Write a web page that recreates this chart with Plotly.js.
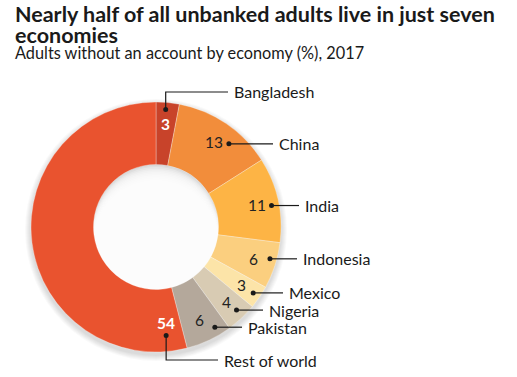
<!DOCTYPE html>
<html>
<head>
<meta charset="utf-8">
<script src="https://cdn.plot.ly/plotly-3.0.1.min.js"></script>
<style>html,body{margin:0;padding:0;background:#fff;}#chart{width:517px;height:377px;}</style>
</head>
<body>
<div id="chart"></div>
<script>
// ---- data ----
const economies = ['Bangladesh', 'China', 'India', 'Indonesia', 'Mexico', 'Nigeria', 'Pakistan', 'Rest of world'];
const shares = [3, 13, 11, 6, 3, 4, 6, 54];
const sliceColors = ['#C8432A', '#F28D3B', '#FDB445', '#FBCF7F', '#FCE4A8', '#D8CBB3', '#B4A89B', '#E9532F'];
const numberColors = ['#ffffff', '#222222', '#222222', '#222222', '#222222', '#222222', '#222222', '#ffffff'];
const titleLines = ['Nearly half of all unbanked adults live in just seven', 'economies'];
const subtitle = 'Adults without an account by economy (%), 2017';

// ---- layout constants (pixels) ----
const W = 517, H = 377;
const CX = 156, CY = 227, R = 125;
const NUM_R = 103;
const FONT = 'Lato, sans-serif';
// callout styling per slice: dot offset from number, leader end x, elbow y
const callout = [
  {ddx: 0,  ddy: -15, elbowY: 92,  endX: 228},
  {ddx: 15, ddy: 2,   endX: 273},
  {ddx: 15, ddy: 1,   endX: 299},
  {ddx: 16, ddy: 0,   endX: 297},
  {ddx: 12, ddy: 8,   endX: 283},
  {ddx: 10, ddy: 8,   endX: 263},
  {ddx: 15, ddy: 7,   endX: 242},
  {ddx: 0,  ddy: 12,  elbowY: 360, endX: 218, angle: 174, r: 97}
];

const px = x => x / W;
const py = y => 1 - y / H;

const total = shares.reduce((a, b) => a + b, 0);
let cum = 0;
const annotations = [];
const shapes = [];

// soft outer shadow (below the pie)
for (let i = 0; i < 6; i++) {
  const rr = R + 1 + i;
  shapes.push({type: 'circle', layer: 'below', xref: 'paper', yref: 'paper',
    x0: px(CX - rr), x1: px(CX + rr), y0: py(CY + 3 + rr), y1: py(CY + 3 - rr),
    fillcolor: 'rgba(0,0,0,0.022)', line: {width: 0}});
}
// inner shadow inside the hole
const HOLE = R * 0.5;
shapes.push({type: 'circle', layer: 'below', xref: 'paper', yref: 'paper',
  x0: px(CX - HOLE - 1), x1: px(CX + HOLE + 1), y0: py(CY + HOLE + 1), y1: py(CY - HOLE - 1),
  fillcolor: '#d2d2d2', line: {width: 0}});
for (let k = 1; k <= 10; k++) {
  const off = k * 1.6;
  const rr = HOLE + 0.6;
  shapes.push({type: 'circle', layer: 'below', xref: 'paper', yref: 'paper',
    x0: px(CX - rr), x1: px(CX + rr), y0: py(CY + off + rr), y1: py(CY + off - rr),
    fillcolor: 'rgba(255,255,255,0.27)', line: {width: 0}});
}

shares.forEach((v, i) => {
  const c = callout[i];
  const mid = (cum + v / 2) / total * 360;
  cum += v;
  const ang = (c.angle !== undefined ? c.angle : mid) * Math.PI / 180;
  const rr = c.r !== undefined ? c.r : NUM_R;
  const nx = CX + rr * Math.sin(ang);
  const ny = CY - rr * Math.cos(ang);
  annotations.push({xref: 'paper', yref: 'paper', x: px(nx), y: py(ny), text: String(v),
    showarrow: false, xanchor: 'center', yanchor: 'middle',
    font: {family: FONT, size: 15.5, color: numberColors[i], weight: numberColors[i] === '#ffffff' ? 'bold' : 'normal'}});
  const dx = nx + c.ddx, dy = ny + c.ddy;
  shapes.push({type: 'circle', xref: 'paper', yref: 'paper', xsizemode: 'pixel', ysizemode: 'pixel',
    xanchor: px(dx), yanchor: py(dy), x0: -2.5, x1: 2.5, y0: -2.5, y1: 2.5,
    fillcolor: '#1a1a1a', line: {width: 0}});
  let path, ly;
  if (c.elbowY !== undefined) {
    ly = c.elbowY;
    path = `M${px(dx)},${py(dy)} L${px(dx)},${py(ly)} L${px(c.endX)},${py(ly)}`;
  } else {
    ly = dy;
    path = `M${px(dx)},${py(dy)} L${px(c.endX)},${py(dy)}`;
  }
  shapes.push({type: 'path', xref: 'paper', yref: 'paper', path: path, line: {color: '#1a1a1a', width: 1.2}});
  annotations.push({xref: 'paper', yref: 'paper', x: px(c.endX + 4), y: py(ly), text: economies[i],
    showarrow: false, xanchor: 'left', yanchor: 'middle',
    font: {family: FONT, size: 16, color: '#1a1a1a'}});
});

// title lines and subtitle
annotations.push({xref: 'paper', yref: 'paper', x: px(13), y: py(13.5), xanchor: 'left', yanchor: 'middle',
  text: '<b>' + titleLines[0] + '</b>', showarrow: false, font: {family: FONT, size: 21.5, color: '#1a1a1a'}});
annotations.push({xref: 'paper', yref: 'paper', x: px(13), y: py(34.5), xanchor: 'left', yanchor: 'middle',
  text: '<b>' + titleLines[1] + '</b>', showarrow: false, font: {family: FONT, size: 21.5, color: '#1a1a1a'}});
annotations.push({xref: 'paper', yref: 'paper', x: px(13), y: py(52), xanchor: 'left', yanchor: 'middle',
  text: subtitle, showarrow: false, font: {family: FONT, size: 16.3, color: '#1a1a1a'}});

const trace = {
  type: 'pie', labels: economies, values: shares, sort: false, direction: 'clockwise', rotation: 0,
  hole: 0.5, textinfo: 'none', hoverinfo: 'label+value',
  marker: {colors: sliceColors, line: {color: 'rgba(255,255,255,0.5)', width: 0.6}},
  domain: {x: [px(CX - R), px(CX + R)], y: [py(CY + R), py(CY - R)]},
  showlegend: false
};

const layout = {
  width: W, height: H,
  margin: {l: 0, r: 0, t: 0, b: 0},
  paper_bgcolor: '#ffffff',
  annotations: annotations,
  shapes: shapes,
  showlegend: false
};

Plotly.newPlot('chart', [trace], layout, {displayModeBar: false, staticPlot: true});
</script>
</body>
</html>
